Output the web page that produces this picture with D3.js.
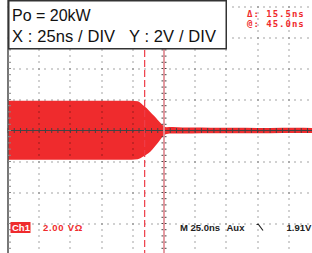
<!DOCTYPE html>
<html>
<head>
<meta charset="utf-8">
<script src="https://cdn.jsdelivr.net/npm/d3@7"></script>
<style>
  body { margin: 0; background: #fff; overflow: hidden; }
  svg { display: block; }
</style>
</head>
<body>
<svg id="scope"></svg>
<script>
const width = 312;
const height = 253;

// time axis (ns) and voltage axis (V), 10 x 8 divisions
const timeDomain = [-80, 170];
const voltDomain = [-8, 8];

// envelope of the switching waveform
const envTime  = [-80, 19, 24, 28, 31, 34, 37, 40, 43, 45, 47, 52, 60, 75, 90, 110, 130, 150, 170];
const envUpper = [1.92, 1.92, 1.88, 1.65, 1.45, 1.2, 0.95, 0.68, 0.42, 0.26, 0.21, 0.22, 0.19, 0.2, 0.17, 0.18, 0.16, 0.17, 0.16];
const envLower = [-1.88, -1.88, -1.85, -1.7, -1.55, -1.37, -1.1, -0.8, -0.48, -0.3, -0.22, -0.2, -0.2, -0.18, -0.18, -0.17, -0.17, -0.16, -0.16];

// cursors (ns)
const cursorA = 29.5;
const cursorB = 45.0;

const titleLines = ["Po = 20kW", "X : 25ns / DIV   Y : 2V / DIV"];
const cursorText = ["\u0394: 15.5ns", "@: 45.0ns"];

const red = "#ef2b2d";

const svg = d3.select("#scope").attr("width", width).attr("height", height);

const x = d3.scaleLinear().domain(timeDomain).range([8, 320]);
const y = d3.scaleLinear().domain(voltDomain).range([254.5, 6.5]);

// waveform band
const env = envTime.map((t, i) => ({ t: t, hi: envUpper[i], lo: envLower[i] }));
svg.append("path")
  .datum(env)
  .attr("fill", red)
  .attr("d", d3.area()
    .x(d => x(d.t))
    .y0(d => y(d.lo))
    .y1(d => y(d.hi))
    .curve(d3.curveMonotoneX));

// graticule dots
const majorT = d3.range(timeDomain[0], timeDomain[1] + 0.01, 25);
const majorV = d3.range(voltDomain[0], voltDomain[1] + 0.01, 2);
const minorT = d3.range(timeDomain[0], timeDomain[1] + 0.01, 5);
const minorV = d3.range(voltDomain[0], voltDomain[1] + 0.01, 0.4);

const grid = svg.append("g").attr("fill", "rgba(0,0,0,0.5)");
majorT.filter(t => t !== timeDomain[0] && t !== 45).forEach(t => {
  grid.selectAll(null).data(minorV).enter().append("rect")
    .attr("x", Math.round(x(t)) - 0.6).attr("y", d => Math.round(y(d)) - 0.6)
    .attr("width", 1.2).attr("height", 1.2);
});
majorV.filter(v => v !== 0).forEach(v => {
  grid.selectAll(null).data(minorT).enter().append("rect")
    .attr("x", d => Math.round(x(d)) - 0.6).attr("y", Math.round(y(v)) - 0.6)
    .attr("width", 1.2).attr("height", 1.2);
});

// center axes with ticks
const axes = svg.append("g").attr("stroke", "#444").attr("stroke-width", 1);
axes.append("line").attr("x1", x(timeDomain[0])).attr("x2", width)
  .attr("y1", y(0)).attr("y2", y(0)).attr("stroke-width", 1.2);
axes.selectAll(".tx").data(minorT).enter().append("line")
  .attr("x1", d => x(d)).attr("x2", d => x(d))
  .attr("y1", y(0) - 2.5).attr("y2", y(0) + 2.5);
axes.append("line").attr("x1", x(45)).attr("x2", x(45))
  .attr("y1", 0).attr("y2", height);
axes.selectAll(".ty").data(minorV).enter().append("line")
  .attr("x1", x(45) - 2.5).attr("x2", x(45) + 2.5)
  .attr("y1", d => y(d)).attr("y2", d => y(d));

// left border with ticks
axes.append("line").attr("x1", x(timeDomain[0])).attr("x2", x(timeDomain[0]))
  .attr("y1", 0).attr("y2", height).attr("stroke-width", 1.6).attr("stroke", "#555");
axes.selectAll(".tl").data(minorV).enter().append("line")
  .attr("x1", x(timeDomain[0])).attr("x2", x(timeDomain[0]) + 3)
  .attr("y1", d => y(d)).attr("y2", d => y(d)).attr("stroke", "#888");

// cursors
svg.append("line")
  .attr("x1", x(cursorB)).attr("x2", x(cursorB))
  .attr("y1", 0).attr("y2", height)
  .attr("stroke", "#f59aa3").attr("stroke-width", 1.6);
svg.append("line")
  .attr("x1", x(cursorA)).attr("x2", x(cursorA))
  .attr("y1", 0).attr("y2", height)
  .attr("stroke", "#ee3d48").attr("stroke-width", 1.2)
  .attr("stroke-dasharray", "7,3");

// title box
svg.append("rect")
  .attr("x", 8.75).attr("y", 0.75).attr("width", 217.5).attr("height", 48)
  .attr("fill", "#fff").attr("stroke", "#333").attr("stroke-width", 1.5);
svg.append("g").selectAll("text").data(titleLines).enter().append("text")
  .attr("x", 12).attr("y", (d, i) => 21 + i * 21)
  .attr("font-family", "Liberation Sans, Arial, sans-serif")
  .attr("font-size", (d, i) => i === 0 ? 16 : 16.5)
  .attr("letter-spacing", (d, i) => i === 0 ? 0 : 0.1)
  .attr("fill", "#111")
  .attr("xml:space", "preserve").style("white-space", "pre")
  .text(d => d);

// cursor readout
svg.append("g").selectAll("text").data(cursorText).enter().append("text")
  .attr("x", 247).attr("y", (d, i) => 17 + i * 10)
  .attr("font-family", "DejaVu Sans Mono, monospace")
  .attr("font-size", 9).attr("font-weight", "bold")
  .attr("letter-spacing", 1).attr("fill", red)
  .text(d => d);

// bottom status line
const status = svg.append("g")
  .attr("font-family", "Liberation Sans, Arial, sans-serif")
  .attr("font-size", 9.5).attr("font-weight", "bold");
status.append("rect").attr("x", 10.5).attr("y", 222).attr("width", 20).attr("height", 11)
  .attr("fill", red);
status.append("text").attr("x", 12).attr("y", 231).attr("fill", "#fff").text("Ch1");
status.append("text").attr("x", 43).attr("y", 231).attr("fill", red)
  .attr("letter-spacing", 0.7).text("2.00 V\u03a9");
status.append("text").attr("x", 180).attr("y", 231).attr("fill", "#222").text("M 25.0ns");
status.append("text").attr("x", 226.5).attr("y", 231).attr("fill", "#222").text("Aux");
status.append("path").attr("fill", "none").attr("stroke", "#222").attr("stroke-width", 1.2)
  .attr("d", "M256.5,224.5 h2 l4.5,6");
status.append("text").attr("x", 286.5).attr("y", 231).attr("fill", "#222").text("1.91V");
</script>
</body>
</html>
